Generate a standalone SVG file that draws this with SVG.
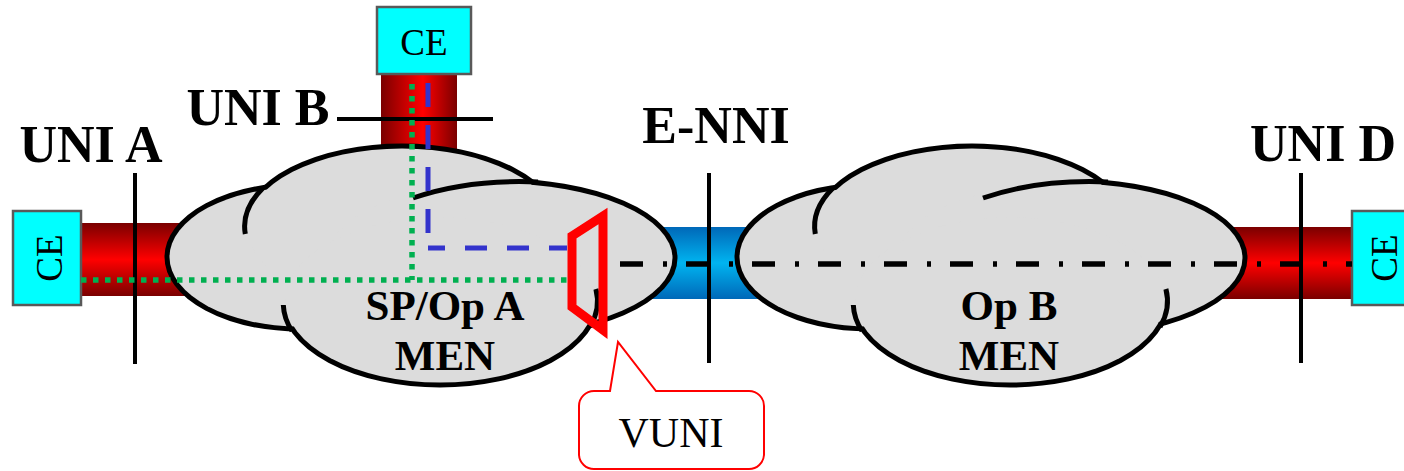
<svg xmlns="http://www.w3.org/2000/svg" xmlns:xlink="http://www.w3.org/1999/xlink" width="1404" height="471" viewBox="0 0 1404 471">
  <style>
    .lbl { font-family: "Liberation Serif", "Times New Roman", serif; font-weight: bold; font-size: 52px; fill: #000; text-anchor: middle; }
    .men { font-family: "Liberation Serif", "Times New Roman", serif; font-weight: bold; font-size: 43px; fill: #000; text-anchor: middle; }
    .ce { font-family: "Liberation Serif", "Times New Roman", serif; font-size: 37px; fill: #000; text-anchor: middle; }
    .vuni { font-family: "Liberation Serif", "Times New Roman", serif; font-size: 42px; fill: #000; text-anchor: middle; }
    .box { fill: #00FFFF; stroke: #595959; stroke-width: 2.5; }
    .bar { stroke: #000; stroke-width: 4; fill: none; }
    .cl-out { fill: #DCDCDC; stroke: #000; stroke-width: 10; }
    .cl-in { fill: #DCDCDC; stroke: none; }
    .arc { fill: none; stroke: #000; stroke-width: 5; }
  </style>
  <defs>
    <linearGradient id="redH" x1="0" y1="0" x2="0" y2="1">
      <stop offset="0" stop-color="#7A0000"/>
      <stop offset="0.5" stop-color="#FF0000"/>
      <stop offset="1" stop-color="#7A0000"/>
    </linearGradient>
    <linearGradient id="redV" x1="0" y1="0" x2="1" y2="0">
      <stop offset="0" stop-color="#7A0000"/>
      <stop offset="0.55" stop-color="#FF0000"/>
      <stop offset="1" stop-color="#7A0000"/>
    </linearGradient>
    <linearGradient id="blueH" x1="0" y1="0" x2="0" y2="1">
      <stop offset="0" stop-color="#0068B8"/>
      <stop offset="0.5" stop-color="#00B4F0"/>
      <stop offset="1" stop-color="#0068B8"/>
    </linearGradient>
    <g id="cloud">
      <ellipse class="cl-out" cx="300" cy="257" rx="130.5" ry="69.5"/>
      <ellipse class="cl-out" cx="402" cy="228" rx="154.5" ry="79.5"/>
      <ellipse class="cl-out" cx="500" cy="258" rx="172.5" ry="74.5"/>
      <ellipse class="cl-out" cx="440" cy="300" rx="154.5" ry="82.5"/>
      <ellipse class="cl-in" cx="300" cy="257" rx="130.5" ry="69.5"/>
      <ellipse class="cl-in" cx="402" cy="228" rx="154.5" ry="79.5"/>
      <ellipse class="cl-in" cx="500" cy="258" rx="172.5" ry="74.5"/>
      <ellipse class="cl-in" cx="440" cy="300" rx="154.5" ry="82.5"/>
      <path class="arc" d="M 263 188 A 157 82 0 0 0 245.3 234"/>
      <path class="arc" d="M 413 198 A 175 77 0 0 1 538 182"/>
      <path class="arc" d="M 283.3 305 A 157 85 0 0 0 292 331"/>
      <path class="arc" d="M 595.9 289 A 157 85 0 0 1 590 327"/>
    </g>
  </defs>

  <rect width="1404" height="471" fill="#FFFFFF"/>

  <g id="pipes">
    <rect x="81" y="223" width="130" height="73" fill="url(#redH)"/>
    <rect x="381" y="74" width="76" height="96" fill="url(#redV)"/>
    <rect x="640" y="227" width="130" height="72" fill="url(#blueH)"/>
    <rect x="1190" y="227" width="162" height="72" fill="url(#redH)"/>
  </g>

  <g id="cloud-a">
    <use xlink:href="#cloud" href="#cloud"/>
    <text class="men" x="445" y="320">SP/Op A</text>
    <text class="men" x="445" y="370">MEN</text>
  </g>

  <g id="cloud-b">
    <use xlink:href="#cloud" href="#cloud" x="570"/>
    <text class="men" x="1009" y="320">Op B</text>
    <text class="men" x="1009" y="370">MEN</text>
  </g>

  <g id="ce-top">
    <rect class="box" x="377" y="7" width="94" height="67"/>
    <text class="ce" x="424" y="55">CE</text>
  </g>
  <g id="ce-left">
    <rect class="box" x="13" y="211" width="68" height="94"/>
    <text class="ce" transform="translate(62 258) rotate(-90)">CE</text>
  </g>
  <g id="ce-right">
    <rect class="box" x="1352" y="211" width="68" height="94"/>
    <text class="ce" transform="translate(1397 258) rotate(-90)">CE</text>
  </g>

  <g id="interfaces">
    <line class="bar" x1="135" y1="173" x2="135" y2="364"/>
    <line class="bar" x1="337" y1="119" x2="493" y2="119"/>
    <line class="bar" x1="709" y1="173" x2="709" y2="363"/>
    <line class="bar" x1="1301" y1="173" x2="1301" y2="363"/>
    <text class="lbl" x="91" y="162">UNI A</text>
    <text class="lbl" x="258" y="125">UNI B</text>
    <text class="lbl" x="716" y="143">E-NNI</text>
    <text class="lbl" x="1323" y="161">UNI D</text>
  </g>

  <g id="connectors">
    <line x1="81" y1="280" x2="567" y2="280" stroke="#00B050" stroke-width="5.5" stroke-dasharray="5.5 6.5"/>
    <line x1="412" y1="84" x2="412" y2="280" stroke="#00B050" stroke-width="5.5" stroke-dasharray="5.5 6.5"/>
    <line x1="428" y1="83" x2="428" y2="248" stroke="#3333CC" stroke-width="5" stroke-dasharray="24 18"/>
    <line x1="428" y1="248" x2="567" y2="248" stroke="#3333CC" stroke-width="5" stroke-dasharray="22 20" stroke-dashoffset="5"/>
    <line x1="620" y1="264" x2="1352" y2="264" stroke="#000" stroke-width="5.5" stroke-dasharray="23 20 4 19"/>
  </g>

  <g id="vuni">
    <polygon points="572,236 603,216 603,330 572,307" fill="none" stroke="#FF0000" stroke-width="9" stroke-linejoin="miter"/>
    <path d="M 594 391 H 610 L 618 342 L 656 391 H 749 A 15 15 0 0 1 764 406 V 455 A 15 15 0 0 1 749 469 H 594 A 15 15 0 0 1 579 455 V 406 A 15 15 0 0 1 594 391 Z" fill="#FFFFFF" stroke="#FF0000" stroke-width="2"/>
    <text class="vuni" x="671" y="447">VUNI</text>
  </g>
</svg>
